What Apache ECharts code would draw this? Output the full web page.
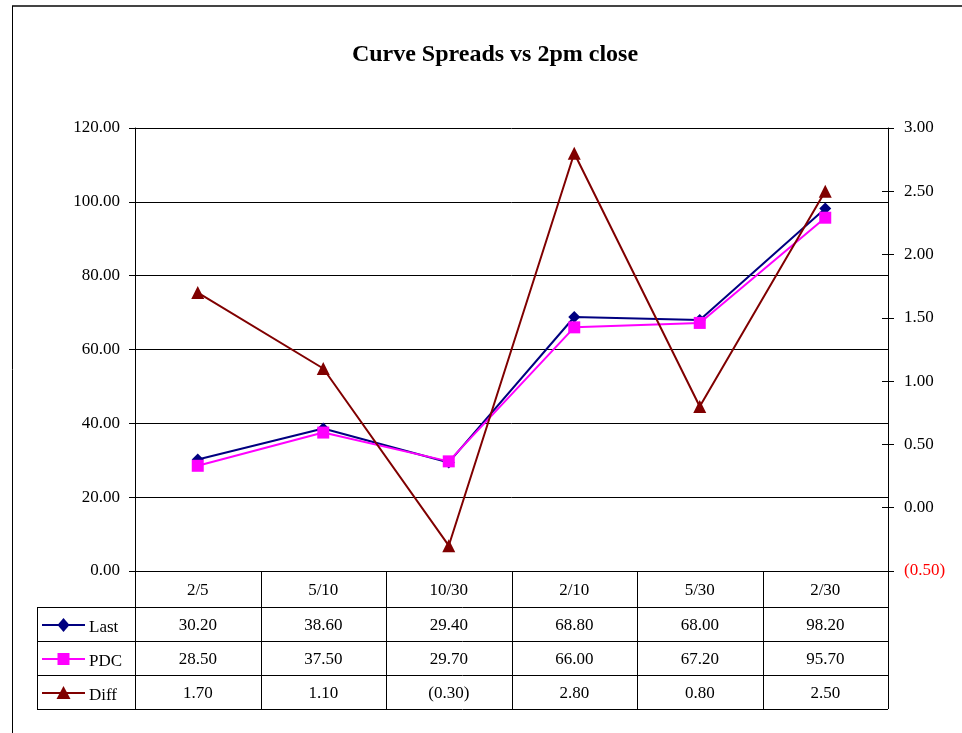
<!DOCTYPE html>
<html>
<head>
<meta charset="utf-8">
<script src="https://cdn.jsdelivr.net/npm/echarts@6/dist/echarts.min.js"></script>
<style>
  html, body { margin: 0; padding: 0; background: #fff; }
  #chart { width: 962px; height: 733px; }
</style>
</head>
<body>
<div id="chart"></div>
<script>
// Curve spread points and their values
const categories = ['2/5', '5/10', '10/30', '2/10', '5/30', '2/30'];
const lastValues = [30.20, 38.60, 29.40, 68.80, 68.00, 98.20];
const pdcValues  = [28.50, 37.50, 29.70, 66.00, 67.20, 95.70];
const diffValues = [1.70, 1.10, -0.30, 2.80, 0.80, 2.50];
const seriesNames = ['Last', 'PDC', 'Diff'];

const FONT = '"Liberation Serif", "DejaVu Serif", serif';
const COLORS = { Last: '#000080', PDC: '#FF00FF', Diff: '#800000' };

// Accounting-style number: negatives in parentheses
function fmt(v) {
  return v < 0 ? '(' + Math.abs(v).toFixed(2) + ')' : v.toFixed(2);
}

const chart = echarts.init(document.getElementById('chart'));

const GRID = { left: 135, right: 74, top: 128, bottom: 162 };

chart.setOption({
  animation: false,
  backgroundColor: '#fff',
  title: {
    text: 'Curve Spreads vs 2pm close',
    left: 490, textAlign: 'center', top: 38,
    textStyle: { fontFamily: FONT, fontSize: 24, fontWeight: 'bold', color: '#000' }
  },
  grid: GRID,
  xAxis: {
    type: 'category',
    data: categories,
    boundaryGap: true,
    axisLine: { lineStyle: { color: '#000', width: 1 } },
    axisTick: { show: false },
    axisLabel: { fontFamily: FONT, fontSize: 17, color: '#000', margin: 11 },
    splitLine: { show: false }
  },
  yAxis: [
    {
      type: 'value', min: 0, max: 120, interval: 20, position: 'left',
      axisLine: { show: true, lineStyle: { color: '#000' } },
      axisTick: { show: true, length: 6, lineStyle: { color: '#000' } },
      axisLabel: { fontFamily: FONT, fontSize: 17, color: '#000', margin: 15, formatter: v => v.toFixed(2) },
      splitLine: { show: true, lineStyle: { color: '#000', width: 1 } }
    },
    {
      type: 'value', min: -0.5, max: 3, interval: 0.5, position: 'right',
      axisLine: { show: true, lineStyle: { color: '#000' } },
      axisTick: { show: true, length: 6, lineStyle: { color: '#000' } },
      axisLabel: {
        fontFamily: FONT, fontSize: 17, color: '#000', margin: 16,
        formatter: v => v < 0 ? '{neg|' + fmt(v) + '}' : fmt(v),
        rich: { neg: { fontFamily: FONT, fontSize: 17, color: '#FF0000' } }
      },
      splitLine: { show: false }
    },
    {
      // inner half of the crossing ticks on the right axis
      type: 'value', min: -0.5, max: 3, interval: 0.5, position: 'right',
      axisLine: { show: false },
      axisTick: { show: true, inside: true, length: 6, lineStyle: { color: '#000' } },
      axisLabel: { show: false },
      splitLine: { show: false }
    }
  ],
  series: [
    {
      name: 'Last', type: 'line', yAxisIndex: 0, data: lastValues,
      symbol: 'diamond', symbolSize: 12,
      itemStyle: { color: COLORS.Last }, lineStyle: { color: COLORS.Last, width: 2 }, z: 3
    },
    {
      name: 'PDC', type: 'line', yAxisIndex: 0, data: pdcValues,
      symbol: 'rect', symbolSize: 12,
      itemStyle: { color: COLORS.PDC }, lineStyle: { color: COLORS.PDC, width: 2 }, z: 4
    },
    {
      name: 'Diff', type: 'line', yAxisIndex: 1, data: diffValues,
      symbol: 'triangle', symbolSize: 13,
      itemStyle: { color: COLORS.Diff }, lineStyle: { color: COLORS.Diff, width: 2 }, z: 5
    }
  ]
});

// Data table under the plot, laid out on the category axis, with a legend key per row
(function drawTable() {
  const c0 = chart.convertToPixel({ xAxisIndex: 0 }, 0);
  const c1 = chart.convertToPixel({ xAxisIndex: 0 }, 1);
  const band = c1 - c0;
  const axisY = chart.convertToPixel({ yAxisIndex: 0 }, 0);
  const headerH = 36, rowH = 34;
  const tableLeft = 37;
  const plotLeft = c0 - band / 2;
  const plotRight = plotLeft + band * categories.length;
  const rows = [lastValues, pdcValues, diffValues];
  const bottom = axisY + headerH + rowH * rows.length;
  const line = (x1, y1, x2, y2, color, w) => ({
    type: 'line', silent: true, z: 10,
    shape: { x1, y1, x2, y2 },
    style: { stroke: color || '#000', lineWidth: w || 1 }
  });
  const els = [];
  // frame around the whole chart
  els.push(line(12, 6, 962, 6, '#444', 2));
  els.push(line(12.5, 6, 12.5, 733, '#000', 1));
  // horizontal rules
  for (let r = 0; r <= rows.length; r++) {
    const y = Math.round(axisY + headerH + rowH * r) + 0.5;
    els.push(line(tableLeft, y, plotRight, y));
  }
  // vertical rules
  els.push(line(tableLeft + 0.5, axisY + headerH, tableLeft + 0.5, bottom));
  for (let i = 0; i <= categories.length; i++) {
    const x = Math.round(plotLeft + band * i) + 0.5;
    els.push(line(x, axisY, x, bottom));
  }
  // cell values
  rows.forEach((vals, r) => {
    const cy = axisY + headerH + rowH * r + rowH / 2 + 2;
    vals.forEach((v, i) => {
      els.push({
        type: 'text', silent: true, z: 10,
        x: plotLeft + band * (i + 0.5), y: cy,
        style: {
          text: fmt(v), fill: '#000',
          font: '17px ' + FONT, align: 'center', verticalAlign: 'middle'
        }
      });
    });
  });
  // legend keys: line + marker + series name
  const keyX1 = 42, keyX2 = 85, keyMid = 63.5;
  const markerShape = {
    Last: (cx, cy) => ({ type: 'polygon', shape: { points: [[cx, cy - 7], [cx + 6, cy], [cx, cy + 7], [cx - 6, cy]] } }),
    PDC: (cx, cy) => ({ type: 'rect', shape: { x: cx - 6, y: cy - 6, width: 12, height: 12 } }),
    Diff: (cx, cy) => ({ type: 'polygon', shape: { points: [[cx, cy - 7], [cx + 7, cy + 6], [cx - 7, cy + 6]] } })
  };
  seriesNames.forEach((name, r) => {
    const cy = axisY + headerH + rowH * r + rowH / 2 + 1;
    const color = COLORS[name];
    els.push(line(keyX1, cy, keyX2, cy, color, 2));
    const m = markerShape[name](keyMid, cy);
    m.silent = true; m.z = 11; m.style = { fill: color };
    els.push(m);
    els.push({
      type: 'text', silent: true, z: 10, x: 89, y: cy + 3,
      style: { text: name, fill: '#000', font: '17px ' + FONT, align: 'left', verticalAlign: 'middle' }
    });
  });
  chart.setOption({ graphic: els });
})();
</script>
</body>
</html>
